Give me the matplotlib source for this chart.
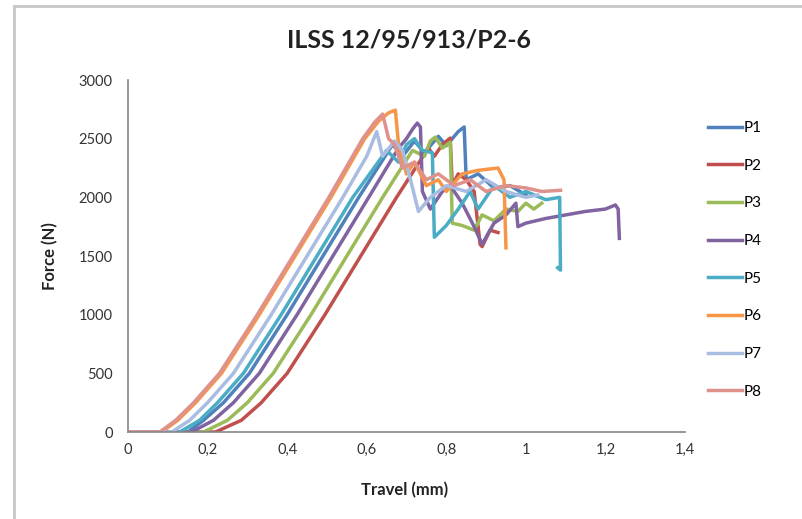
import matplotlib
matplotlib.use("Agg")
import matplotlib.pyplot as plt
from matplotlib.lines import Line2D
from matplotlib.ticker import FixedLocator, FuncFormatter

plt.rcParams['font.family'] = ['Lato', 'DejaVu Sans']

# ---- data (Travel mm, Force N) ----
p1_x = [0, 0.15, 0.19, 0.24, 0.305, 0.40, 0.49, 0.58, 0.665, 0.69, 0.72, 0.745, 0.78, 0.80, 0.83, 0.845, 0.85, 0.88, 0.92, 0.96, 1.0]
p1_y = [0, 0, 100, 250, 500, 1000, 1500, 2000, 2450, 2350, 2480, 2380, 2520, 2440, 2560, 2600, 2150, 2200, 2080, 2100, 2020]

p2_x = [0, 0.22, 0.285, 0.335, 0.40, 0.495, 0.585, 0.675, 0.755, 0.77, 0.79, 0.81, 0.815, 0.83, 0.85, 0.87, 0.885, 0.89, 0.91, 0.93]
p2_y = [0, 0, 100, 250, 500, 1000, 1500, 2000, 2420, 2350, 2450, 2505, 2100, 2200, 2150, 2050, 1600, 1580, 1720, 1700]

p3_x = [0, 0.19, 0.25, 0.30, 0.365, 0.46, 0.55, 0.64, 0.715, 0.745, 0.76, 0.772, 0.79, 0.81, 0.815, 0.84, 0.87, 0.89, 0.92, 0.95, 0.98, 1.0, 1.02, 1.04]
p3_y = [0, 0, 100, 250, 500, 1000, 1500, 2000, 2400, 2350, 2480, 2513, 2420, 2470, 1780, 1760, 1720, 1850, 1800, 1900, 1880, 1950, 1900, 1950]

p4_x = [0, 0.16, 0.215, 0.265, 0.33, 0.425, 0.515, 0.605, 0.68, 0.70, 0.715, 0.727, 0.735, 0.74, 0.76, 0.79, 0.81, 0.84, 0.87, 0.89, 0.92, 0.95, 0.975, 0.98, 1.0, 1.05, 1.1, 1.15, 1.2, 1.225, 1.232, 1.235]
p4_y = [0, 0, 100, 250, 500, 1000, 1500, 2000, 2420, 2500, 2580, 2633, 2600, 2050, 1900, 2050, 2100, 1950, 1750, 1600, 1780, 1850, 1950, 1750, 1780, 1820, 1850, 1880, 1900, 1935, 1900, 1650]

p5_x = [0, 0.13, 0.18, 0.225, 0.29, 0.385, 0.475, 0.565, 0.65, 0.68, 0.70, 0.72, 0.74, 0.765, 0.77, 0.80, 0.83, 0.86, 0.88, 0.92, 0.96, 1.0, 1.05, 1.085, 1.087, 1.08]
p5_y = [0, 0, 100, 250, 500, 1000, 1500, 2000, 2400, 2300, 2450, 2500, 2400, 2380, 1660, 1760, 1900, 2050, 1900, 2100, 2000, 2050, 1980, 2000, 1380, 1400]

p6_x = [0, 0.085, 0.125, 0.17, 0.235, 0.33, 0.42, 0.51, 0.595, 0.63, 0.655, 0.672, 0.68, 0.70, 0.72, 0.75, 0.78, 0.80, 0.84, 0.88, 0.93, 0.945, 0.95]
p6_y = [0, 0, 100, 250, 500, 1000, 1500, 2000, 2500, 2650, 2720, 2743, 2450, 2200, 2300, 2100, 2150, 2050, 2200, 2230, 2250, 2150, 1570]

p7_x = [0, 0.11, 0.155, 0.20, 0.265, 0.36, 0.45, 0.54, 0.60, 0.625, 0.64, 0.67, 0.69, 0.71, 0.73, 0.76, 0.80, 0.85, 0.90, 0.95, 1.0, 1.03]
p7_y = [0, 0, 100, 250, 500, 1000, 1500, 2000, 2350, 2560, 2350, 2480, 2400, 2150, 1880, 2000, 2100, 2050, 2150, 2050, 2000, 2020]

p8_x = [0, 0.08, 0.12, 0.165, 0.23, 0.325, 0.415, 0.505, 0.59, 0.62, 0.64, 0.655, 0.67, 0.69, 0.72, 0.75, 0.78, 0.82, 0.86, 0.90, 0.95, 1.0, 1.04, 1.087]
p8_y = [0, 0, 100, 250, 500, 1000, 1500, 2000, 2500, 2640, 2710, 2500, 2450, 2250, 2300, 2150, 2200, 2100, 2150, 2050, 2100, 2080, 2050, 2060]

series_names = ['P1', 'P2', 'P3', 'P4', 'P5', 'P6', 'P7', 'P8']
series_x = [p1_x, p2_x, p3_x, p4_x, p5_x, p6_x, p7_x, p8_x]
series_y = [p1_y, p2_y, p3_y, p4_y, p5_y, p6_y, p7_y, p8_y]
colors = ['#4F81BD', '#C0504D', '#9BBB59', '#8064A2', '#4BACC6', '#F79646', '#A9BCE2', '#DF918C']

x_ticks = [0, 0.2, 0.4, 0.6, 0.8, 1.0, 1.2, 1.4]
y_ticks = [0, 500, 1000, 1500, 2000, 2500, 3000]

W, H = 802, 519
fig = plt.figure(figsize=(W / 100, H / 100), dpi=100)
fig.patch.set_facecolor('white')

ax = fig.add_axes([128 / W, 1 - 432 / H, (685 - 128) / W, (432 - 80) / H])
for xs, ys, c, n in zip(series_x, series_y, colors, series_names):
    ax.plot(xs, ys, color=c, lw=2.5, label=n, solid_joinstyle='round')

ax.set_xlim(0, 1.4)
ax.set_ylim(0, 3000)
ax.xaxis.set_major_locator(FixedLocator(x_ticks))
ax.yaxis.set_major_locator(FixedLocator(y_ticks))
ax.xaxis.set_major_formatter(FuncFormatter(lambda v, p: ('%g' % v).replace('.', ',')))
ax.yaxis.set_major_formatter(FuncFormatter(lambda v, p: '%d' % v))
ax.tick_params(axis='both', length=0, labelsize=10.5, colors='#333333')
ax.tick_params(axis='y', pad=11)
ax.tick_params(axis='x', pad=8)
for s in ['top', 'right']:
    ax.spines[s].set_visible(False)
for s in ['left', 'bottom']:
    ax.spines[s].set_color('#868686')
    ax.spines[s].set_linewidth(1.2)

fig.text(409 / W, 1 - 40 / H, 'ILSS 12/95/913/P2-6', ha='center', va='center',
         fontsize=18, fontweight='bold', color='#222222')
fig.text(405 / W, 1 - 490 / H, 'Travel (mm)', ha='center', va='center',
         fontsize=12, fontweight='bold', color='#222222')
fig.text(50 / W, 1 - 256 / H, 'Force (N)', ha='center', va='center', rotation=90,
         fontsize=12, fontweight='bold', color='#222222')

leg = ax.legend(loc='upper left', bbox_to_anchor=(708 / W, 1 - 121 / H), bbox_transform=fig.transFigure,
                frameon=False, fontsize=11, handlelength=2.2, handletextpad=0.15, labelspacing=1.55,
                borderaxespad=0, borderpad=0)

# chart border
fig.add_artist(Line2D([14 / W, 14 / W], [0, 1 - 6 / H], transform=fig.transFigure, color='#C8C8C8', lw=2))
fig.add_artist(Line2D([14 / W, 1], [1 - 6 / H, 1 - 6 / H], transform=fig.transFigure, color='#C8C8C8', lw=2))

fig.savefig('out.png', dpi=100)
